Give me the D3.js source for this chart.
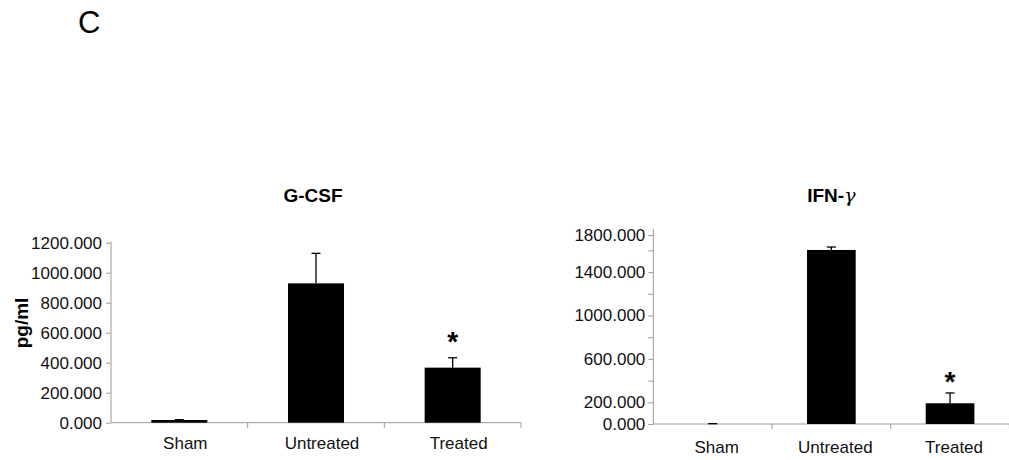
<!DOCTYPE html>
<html><head><meta charset="utf-8">
<script src="https://cdn.jsdelivr.net/npm/d3@7"></script>
<style>
body{margin:0;background:#fff}
svg{display:block}
text{font-family:Arial,"Liberation Sans",sans-serif}
</style>
</head><body>
<svg id="chart" width="1009" height="460"></svg>
<script>
const categories = ["Sham", "Untreated", "Treated"];

const gcsfMeans = [18, 929, 367];
const gcsfErrors = [2, 200, 66];
const gcsfStars = [false, false, true];
const gcsfTicks = [0, 200, 400, 600, 800, 1000, 1200];
const gcsfTickLabels = ["0.000", "200.000", "400.000", "600.000", "800.000", "1000.000", "1200.000"];

const ifnMeans = [0, 1604, 191];
const ifnErrors = [3, 27, 95];
const ifnStars = [false, false, true];
const ifnTicks = [0, 200, 400, 600, 800, 1000, 1200, 1400, 1600, 1742];
const ifnTickLabels = ["0.000", "200.000", "", "600.000", "", "1000.000", "", "1400.000", "", "1800.000"];

const panels = [
  {title: "G-CSF", gamma: false, means: gcsfMeans, errors: gcsfErrors, stars: gcsfStars,
   ticks: gcsfTicks, tickLabels: gcsfTickLabels, yMax: 1200,
   xr: [111, 521], yr: [422.7, 242.7], axisTop: 241.5,
   titleDx: -3, titleY: 202, labelY: 449, labelDx: 6, starGap: 23, tickPad: 4},
  {title: "IFN-", gamma: true, means: ifnMeans, errors: ifnErrors, stars: ifnStars,
   ticks: ifnTicks, tickLabels: ifnTickLabels, yMax: 1800,
   xr: [653.3, 1009.4], yr: [424, 228.7], axisTop: 228.7,
   titleDx: 0, titleY: 202, labelY: 453, labelDx: 4, starGap: 18, tickPad: 3}
];

const svg = d3.select("#chart");
const axisColor = "#9a9a9a";

// Panel letter
svg.append("text").attr("x", 78).attr("y", 33)
  .attr("font-size", 31).attr("fill", "#000").text("C");

panels.forEach(p => {
  const g = svg.append("g");
  const x = d3.scaleBand().domain(categories).range(p.xr).padding(0);
  const y = d3.scaleLinear().domain([0, p.yMax]).range(p.yr);
  const bw = x.bandwidth() * 0.41;
  const cx = c => x(c) + x.bandwidth() / 2;

  // Y axis
  const yAxis = d3.axisLeft(y).tickValues(p.ticks)
    .tickFormat((d, i) => p.tickLabels[i]).tickSize(5).tickPadding(p.tickPad);
  const ya = g.append("g").attr("transform", `translate(${p.xr[0]},0)`).call(yAxis);
  ya.select(".domain").remove();
  ya.selectAll(".tick line").attr("stroke", axisColor);
  ya.selectAll(".tick text").attr("font-size", 17).attr("fill", "#111")
    .attr("font-family", "Arial, 'Liberation Sans', sans-serif");
  g.append("line").attr("x1", p.xr[0]).attr("x2", p.xr[0])
    .attr("y1", p.axisTop).attr("y2", y(0)).attr("stroke", axisColor);

  // X axis line and category dividers
  g.append("line").attr("x1", p.xr[0]).attr("x2", p.xr[1])
    .attr("y1", y(0)).attr("y2", y(0)).attr("stroke", axisColor);
  categories.slice(1).concat([null]).forEach((c, i) => {
    const xx = c ? x(c) : p.xr[1];
    g.append("line").attr("x1", xx).attr("x2", xx)
      .attr("y1", y(0)).attr("y2", y(0) + 5).attr("stroke", axisColor);
  });

  // Bars
  g.selectAll("rect.bar").data(categories).enter().append("rect")
    .attr("x", c => cx(c) - bw / 2)
    .attr("width", bw)
    .attr("y", (c, i) => y(p.means[i]))
    .attr("height", (c, i) => y(0) - y(p.means[i]))
    .attr("fill", "#000");

  // Error bars (upper)
  categories.forEach((c, i) => {
    const top = y(p.means[i] + p.errors[i]);
    g.append("line").attr("x1", cx(c)).attr("x2", cx(c))
      .attr("y1", y(p.means[i])).attr("y2", top)
      .attr("stroke", "#000").attr("stroke-width", 1.3);
    g.append("line").attr("x1", cx(c) - 4.5).attr("x2", cx(c) + 4.5)
      .attr("y1", top).attr("y2", top)
      .attr("stroke", "#000").attr("stroke-width", 1.3);
    if (p.stars[i]) {
      g.append("text").attr("x", cx(c)).attr("y", top - p.starGap + 16)
        .attr("text-anchor", "middle").attr("font-size", 28)
        .attr("font-weight", "bold").attr("fill", "#000").text("*");
    }
  });

  // Category labels
  categories.forEach(c => {
    g.append("text").attr("x", cx(c) + p.labelDx).attr("y", p.labelY)
      .attr("text-anchor", "middle").attr("font-size", 17).attr("fill", "#111").text(c);
  });

  // Title
  const t = g.append("text").attr("x", (p.xr[0] + p.xr[1]) / 2 + p.titleDx).attr("y", p.titleY)
    .attr("text-anchor", "middle").attr("font-size", 19).attr("font-weight", "bold")
    .attr("fill", "#000").text(p.title);
  if (p.gamma) {
    t.append("tspan").attr("font-weight", "normal").attr("font-style", "italic")
      .attr("font-family", "'DejaVu Serif', 'Liberation Serif', serif").text("γ");
  }
});

// Y-axis title
svg.append("text").attr("transform", "translate(28,323) rotate(-90)")
  .attr("text-anchor", "middle").attr("font-size", 19).attr("font-weight", "bold")
  .attr("fill", "#000").text("pg/ml");
</script>
</body></html>
